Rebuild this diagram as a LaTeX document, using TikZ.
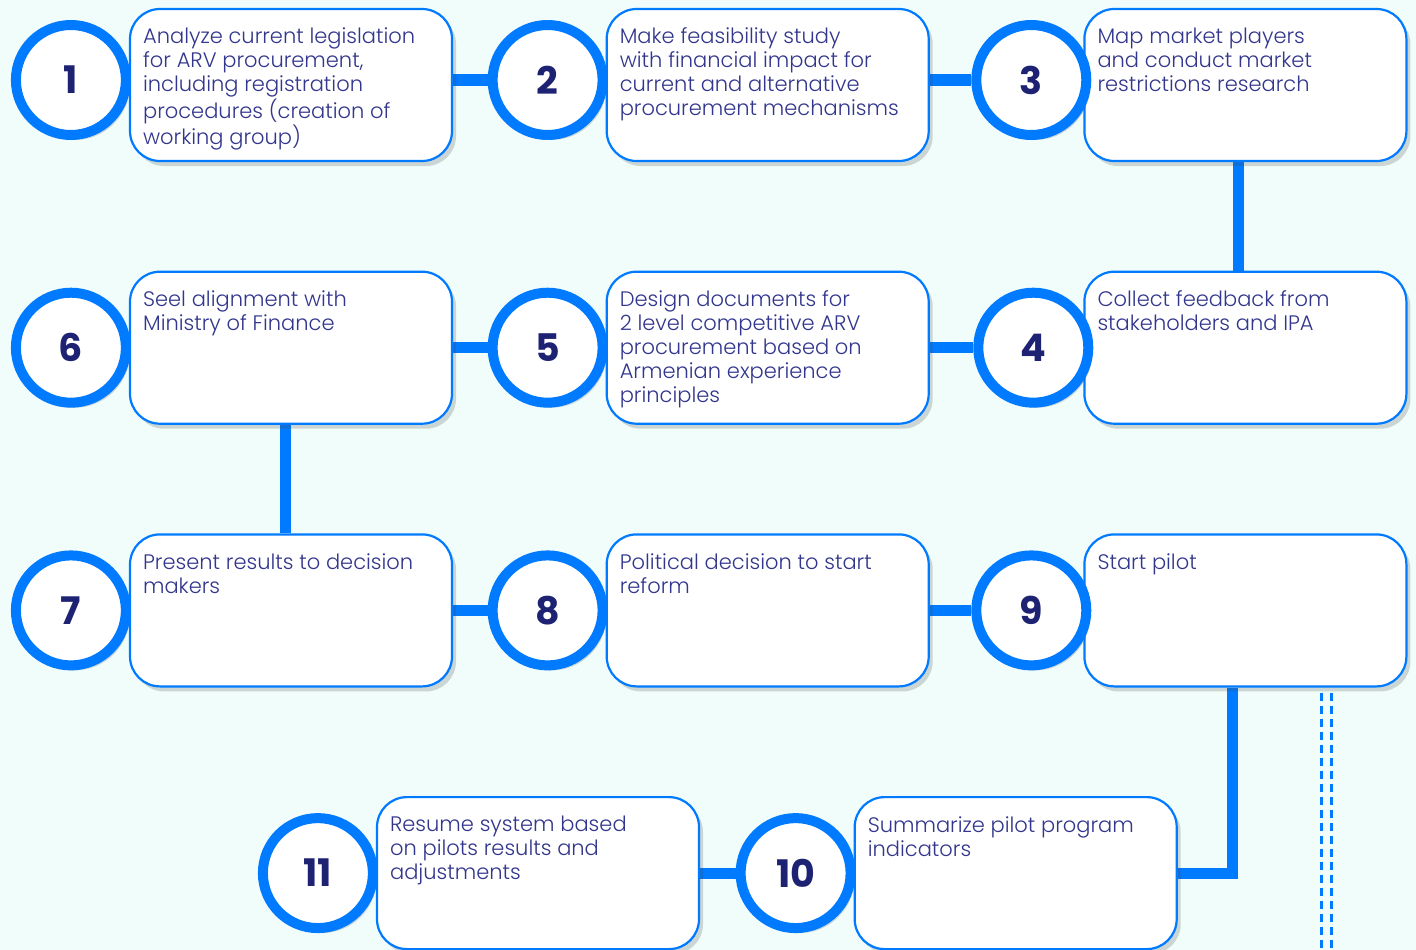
\documentclass[tikz,border=0pt]{standalone}
\usepackage{fontspec}
\setmainfont{Poppins}[UprightFont=* Light, BoldFont=* Bold]
\usepackage{tikz}
\usetikzlibrary{positioning}
\usetikzlibrary{shadows}
\definecolor{pagecol}{RGB}{240,253,251}
\definecolor{stepblue}{RGB}{0,122,255}
\definecolor{steptextcol}{RGB}{50,54,140}
\definecolor{stepnumcol}{RGB}{30,34,115}
\pgfdeclarelayer{pagebg}
\pgfdeclarelayer{linkbg}
\pgfsetlayers{pagebg,linkbg,main}
\tikzset{
	stepbox/.style={draw=stepblue, line width=2.2pt, fill=white, rounded corners=30pt, minimum width=322pt, minimum height=152pt, inner sep=0pt,
		drop shadow={shadow xshift=4pt, shadow yshift=-5pt, opacity=.22, fill=black!70}},
	numcircle/.style={circle, draw=stepblue, line width=10pt, fill=white, minimum size=110pt, inner sep=0pt, text=stepnumcol,
		font=\fontsize{38}{38}\selectfont\bfseries, drop shadow={shadow xshift=4pt, shadow yshift=-5pt, opacity=.22, fill=black!70}},
	steptext/.style={inner sep=0pt, align=left, text=steptextcol, font=\fontsize{21}{24}\selectfont},
	link/.style={draw=stepblue, line width=11pt},
	guide/.style={draw=stepblue, line width=2.5pt, dash pattern=on 8pt off 5pt}
}
\begin{document}
\begin{tikzpicture}[x=1pt, y=-1pt]
	\useasboundingbox (0,0) rectangle (1416,950);
	\begin{pgfonlayer}{pagebg}
		\fill[pagecol] (0,0) rectangle (1416,950);
	\end{pgfonlayer}
	
	\node[stepbox] at (291,85) (b1) {};
	\node[stepbox, right=152.5pt of b1] (b2) {};
	\node[stepbox, right=153.5pt of b2] (b3) {};
	\node[stepbox, below=108.5pt of b3] (b4) {};
	\node[stepbox, left=153.5pt of b4] (b5) {};
	\node[stepbox, left=152.5pt of b5] (b6) {};
	\node[stepbox, below=108.5pt of b6] (b7) {};
	\node[stepbox, right=152.5pt of b7] (b8) {};
	\node[stepbox, right=153.5pt of b8] (b9) {};
	\node[stepbox, below=108.5pt of b8, xshift=248pt] (b10) {};
	\node[stepbox, left=153.5pt of b10] (b11) {};
	\node[numcircle, left=-2pt of b1, yshift=5pt] (c1) {1}; \node[numcircle, left=-2pt of b2, yshift=5pt] (c2) {2}; \node[numcircle, left=-8pt of b3, yshift=5pt] (c3) {3};
	\node[numcircle, left=-10pt of b4] (c4) {4}; \node[numcircle, left=-2pt of b5] (c5) {5}; \node[numcircle, left=-2pt of b6] (c6) {6};
	\node[numcircle, left=-2pt of b7] (c7) {7}; \node[numcircle, left=-2pt of b8] (c8) {8}; \node[numcircle, left=-8pt of b9] (c9) {9};
	\node[numcircle, left=-2pt of b10] (c10) {10}; \node[numcircle, left=-2pt of b11] (c11) {11};
	\node[steptext, below right=20pt and 14pt of b1.north west] (t1) {Analyze current legislation\\for ARV procurement,\\including registration\\procedures (creation of\\working group)};
	\node[steptext, below right=20pt and 14pt of b2.north west] (t2) {Make feasibility study\\with financial impact for\\current and alternative\\procurement mechanisms};
	\node[steptext, below right=20pt and 14pt of b3.north west] (t3) {Map market players\\and conduct market\\restrictions research};
	\node[steptext, below right=20pt and 14pt of b4.north west] (t4) {Collect feedback from\\stakeholders and IPA};
	\node[steptext, below right=20pt and 14pt of b5.north west] (t5) {Design documents for\\2 level competitive ARV\\procurement based on\\Armenian experience\\principles};
	\node[steptext, below right=20pt and 14pt of b6.north west] (t6) {Seel alignment with\\Ministry of Finance};
	\node[steptext, below right=20pt and 14pt of b7.north west] (t7) {Present results to decision\\makers};
	\node[steptext, below right=20pt and 14pt of b8.north west] (t8) {Political decision to start\\reform};
	\node[steptext, below right=20pt and 14pt of b9.north west] (t9) {Start pilot};
	\node[steptext, below right=20pt and 14pt of b10.north west] (t10) {Summarize pilot program\\indicators};
	\node[steptext, below right=20pt and 14pt of b11.north west] (t11) {Resume system based\\on pilots results and\\adjustments};
	\begin{pgfonlayer}{linkbg}
		\draw[link] (b1.east |- c2) -- (c2.west); \draw[link] (b2.east |- c3) -- (c3.west);
		\draw[link] ([xshift=-7pt]b3.south) -- ([xshift=-7pt]b4.north);
		\draw[link] (c4.west) -- (b5.east); \draw[link] (c5.west) -- (b6.east);
		\draw[link] ([xshift=-6pt]b6.south) -- ([xshift=-6pt]b7.north);
		\draw[link] (b7.east) -- (c8.west); \draw[link] (b8.east) -- (c9.west);
		\draw[link] ([xshift=-13pt]b9.south) |- (b10.east);
		\draw[link] (c10.west) -- (b11.east);
	\end{pgfonlayer}
	\draw[guide] ([xshift=76pt, yshift=-5pt]b9.south) -- ++(0,260); \draw[guide] ([xshift=86pt, yshift=-5pt]b9.south) -- ++(0,260);
\end{tikzpicture}
\end{document}
